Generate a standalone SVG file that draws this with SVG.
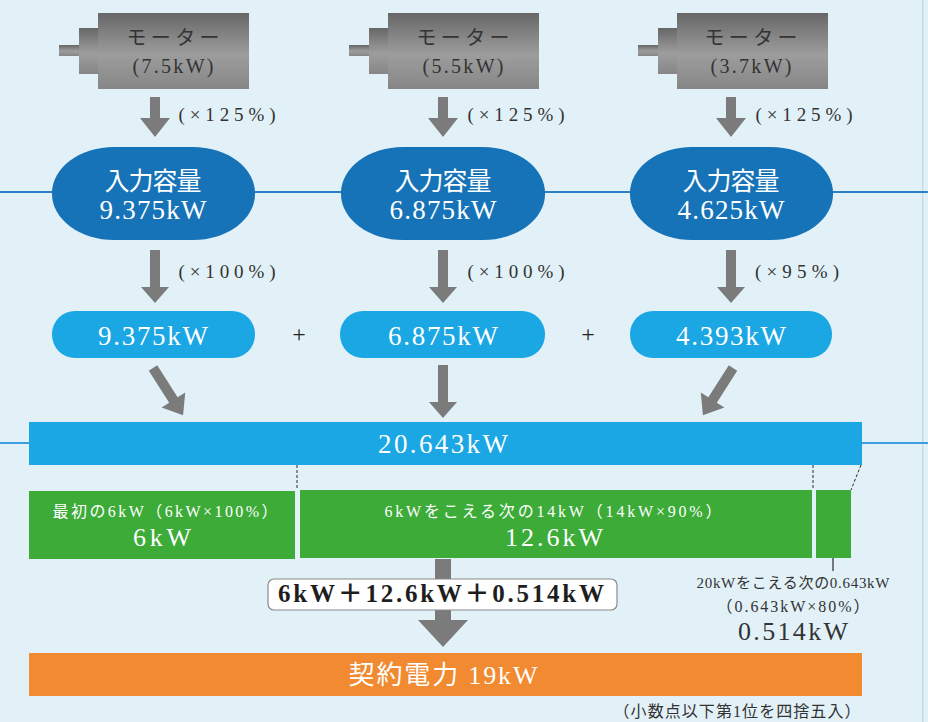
<svg xmlns="http://www.w3.org/2000/svg" width="928" height="722" viewBox="0 0 928 722">
  <defs>
    <linearGradient id="motorBody" x1="0" y1="0" x2="0" y2="1">
      <stop offset="0" stop-color="#676767"/>
      <stop offset="0.55" stop-color="#9d9d9d"/>
      <stop offset="1" stop-color="#868686"/>
    </linearGradient>
    <!-- down-pointing arrows, origin at the tail -->
    <path id="arrow56" d="M-5,0 L5,0 L5,38 L14,38 L0,56 L-14,38 L-5,38 Z"/>
    <path id="arrow40" d="M-5,0 L5,0 L5,21 L15,21 L0,40 L-15,21 L-5,21 Z"/>
    <path id="arrow53" d="M-5,0 L5,0 L5,37 L14,37 L0,53 L-14,37 L-5,37 Z"/>
    <g id="motor">
      <rect x="-95" y="32" width="22" height="11" fill="url(#motorBody)"/>
      <rect x="-75" y="15" width="20" height="46" fill="url(#motorBody)"/>
      <rect x="-56" y="0" width="151" height="76" fill="url(#motorBody)"/>
    </g>
  </defs>
  <style>
    text { font-family: 'Liberation Serif', 'Noto Sans CJK JP', serif; text-anchor: middle; }
    .dark { fill: #333333; }
    .white { fill: #ffffff; }
    .arrow { fill: #7b7b7b; }
    .cap { fill: #1673b8; }
    .pill { fill: #1ba6e4; }
    .green { fill: #3cab38; }
    .orange { fill: #f18a31; }
    .guide { stroke: #2b2b2b; stroke-width: 1; stroke-dasharray: 3 2; fill: none; }
  </style>

  <!-- page background -->
  <rect x="0" y="0" width="928" height="722" fill="#e2f1f8"/>
  <rect x="922" y="0" width="1.5" height="722" fill="#c6dde8"/>

  <!-- horizontal rules behind the shapes -->
  <line x1="0" y1="192" x2="928" y2="192" stroke="#2b7fc4" stroke-width="2"/>
  <line x1="0" y1="443" x2="928" y2="443" stroke="#3b9fe0" stroke-width="2"/>

  <!-- connectors (drawn first so the sum box covers the big arrow) -->
  <g id="connectors">
    <use class="arrow" href="#arrow40" x="155" y="97"/>
    <use class="arrow" href="#arrow40" x="443" y="97"/>
    <use class="arrow" href="#arrow40" x="731" y="97"/>
    <text class="dark" x="227" y="121" font-size="19" textLength="97">(×125%)</text>
    <text class="dark" x="516" y="121" font-size="19" textLength="97">(×125%)</text>
    <text class="dark" x="804" y="121" font-size="19" textLength="97">(×125%)</text>

    <use class="arrow" href="#arrow53" x="155" y="250"/>
    <use class="arrow" href="#arrow53" x="443" y="250"/>
    <use class="arrow" href="#arrow53" x="731" y="250"/>
    <text class="dark" x="227" y="278" font-size="19" textLength="97">(×100%)</text>
    <text class="dark" x="516" y="278" font-size="19" textLength="97">(×100%)</text>
    <text class="dark" x="797" y="278" font-size="19" textLength="84">(×95%)</text>

    <use class="arrow" href="#arrow56" transform="translate(153,368) rotate(-32.5)"/>
    <use class="arrow" href="#arrow53" x="443" y="365"/>
    <use class="arrow" href="#arrow56" transform="translate(733,368) rotate(32.5)"/>

    <line class="guide" x1="297" y1="465" x2="297" y2="490"/>
    <line class="guide" x1="813" y1="465" x2="813" y2="490"/>
    <line class="guide" x1="861" y1="465" x2="851" y2="490"/>
    <line x1="833" y1="550" x2="833" y2="571" stroke="#2b2b2b" stroke-width="1.2"/>

    <path class="arrow" d="M435,559 L451,559 L451,620 L468,620 L443,647 L418,620 L435,620 Z"/>
  </g>

  <!-- motors -->
  <g id="motor-1">
    <use href="#motor" x="154" y="13"/>
    <text class="dark" x="173" y="45" font-size="20" textLength="93">モーター</text>
    <text class="dark" x="173" y="73" font-size="20" textLength="81">(7.5kW)</text>
  </g>
  <g id="motor-2">
    <use href="#motor" x="444" y="13"/>
    <text class="dark" x="463" y="45" font-size="20" textLength="93">モーター</text>
    <text class="dark" x="463" y="73" font-size="20" textLength="81">(5.5kW)</text>
  </g>
  <g id="motor-3">
    <use href="#motor" x="733" y="13"/>
    <text class="dark" x="751" y="45" font-size="20" textLength="93">モーター</text>
    <text class="dark" x="751" y="73" font-size="20" textLength="81">(3.7kW)</text>
  </g>

  <!-- input capacity -->
  <g id="capacity-1">
    <rect class="cap" x="52" y="147" width="203" height="93" rx="62" ry="46"/>
    <text class="white" x="153" y="190" font-size="25" textLength="97">入力容量</text>
    <text class="white" x="153" y="219" font-size="27" textLength="107">9.375kW</text>
  </g>
  <g id="capacity-2">
    <rect class="cap" x="341" y="147" width="204" height="93" rx="62" ry="46"/>
    <text class="white" x="443" y="190" font-size="25" textLength="97">入力容量</text>
    <text class="white" x="443" y="219" font-size="27" textLength="107">6.875kW</text>
  </g>
  <g id="capacity-3">
    <rect class="cap" x="630" y="147" width="203" height="93" rx="62" ry="46"/>
    <text class="white" x="731" y="190" font-size="25" textLength="97">入力容量</text>
    <text class="white" x="731" y="219" font-size="27" textLength="107">4.625kW</text>
  </g>

  <!-- demand-factor results -->
  <g id="result-1">
    <rect class="pill" x="52" y="311" width="203" height="47" rx="23"/>
    <text class="white" x="153" y="345" font-size="27" textLength="110">9.375kW</text>
  </g>
  <g id="result-2">
    <rect class="pill" x="340" y="311" width="205" height="47" rx="23"/>
    <text class="white" x="443" y="345" font-size="27" textLength="110">6.875kW</text>
  </g>
  <g id="result-3">
    <rect class="pill" x="630" y="311" width="202" height="47" rx="23"/>
    <text class="white" x="731" y="345" font-size="27" textLength="110">4.393kW</text>
  </g>
  <g id="plus-signs">
    <text x="299" y="342" font-size="24" fill="#222">+</text>
    <text x="588" y="342" font-size="24" fill="#222">+</text>
  </g>

  <!-- total -->
  <g id="total">
    <rect class="pill" x="29" y="422" width="833" height="43"/>
    <text class="white" x="443" y="453" font-size="27" textLength="130">20.643kW</text>
  </g>

  <!-- graded tiers -->
  <g id="tier-1">
    <rect class="green" x="29" y="491" width="266" height="68"/>
    <text class="white" x="165" y="517" font-size="16" textLength="225">最初の6kW（6kW×100%）</text>
    <text class="white" x="162" y="546" font-size="26" textLength="58">6kW</text>
  </g>
  <g id="tier-2">
    <rect class="green" x="300" y="490" width="512" height="68"/>
    <text class="white" x="553" y="517" font-size="16" textLength="337">6kWをこえる次の14kW（14kW×90%）</text>
    <text class="white" x="554" y="546" font-size="26" textLength="98">12.6kW</text>
  </g>
  <g id="tier-3">
    <rect class="green" x="816" y="490" width="35" height="68"/>
    <text class="dark" x="793" y="588" font-size="15" textLength="193">20kWをこえる次の0.643kW</text>
    <text class="dark" x="793" y="612" font-size="16" textLength="153">（0.643kW×80%）</text>
    <text class="dark" x="793" y="640" font-size="26" textLength="110">0.514kW</text>
  </g>

  <!-- sum -->
  <g id="sum">
    <rect x="268" y="579" width="349" height="31" rx="6" fill="#ffffff" stroke="#8a8a8a" stroke-width="1.2"/>
    <text x="441" y="602" font-size="25" font-weight="bold" fill="#1e1e1e" textLength="326">6kW＋12.6kW＋0.514kW</text>
  </g>

  <!-- contract power -->
  <g id="contract">
    <rect class="orange" x="29" y="653" width="833" height="43"/>
    <text class="white" x="443" y="684" font-size="26" textLength="189">契約電力 19kW</text>
    <text class="dark" x="737" y="717" font-size="16" textLength="247">（小数点以下第1位を四捨五入）</text>
  </g>
</svg>
